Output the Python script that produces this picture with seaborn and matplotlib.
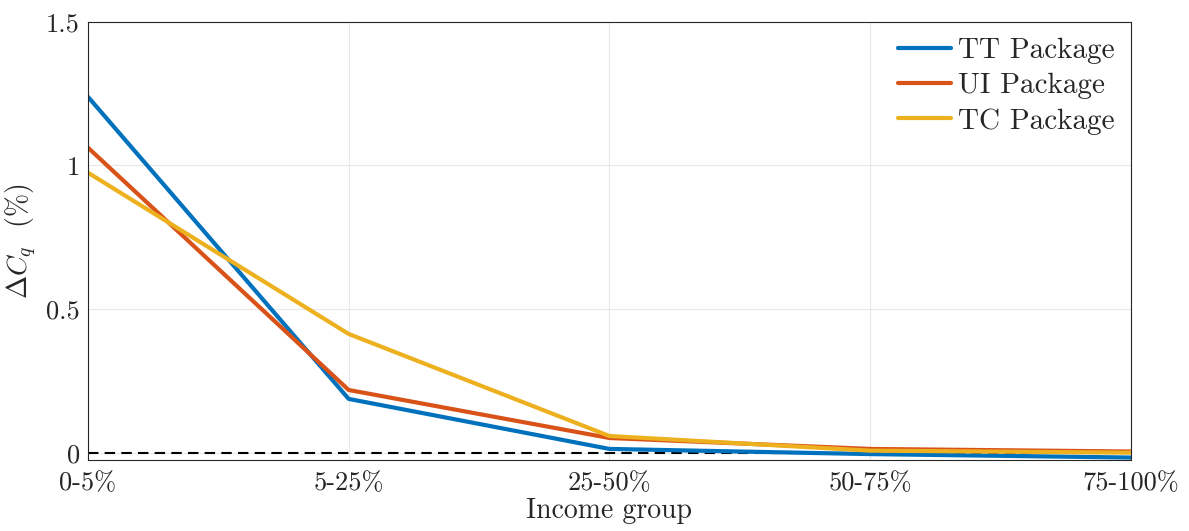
import pandas as pd
import numpy as np
import matplotlib.pyplot as plt
import seaborn as sns

# data
groups = ["0-5%", "5-25%", "25-50%", "50-75%", "75-100%"]
tt_package = [1.239, 0.188, 0.014, -0.004, -0.016]
ui_package = [1.062, 0.219, 0.052, 0.014, 0.005]
tc_package = [0.975, 0.414, 0.059, 0.008, 0.001]
series_names = ["TT Package", "UI Package", "TC Package"]
colors = ["#0072BD", "#D95319", "#EDB120"]

df = pd.DataFrame({"group": groups, "TT Package": tt_package,
                   "UI Package": ui_package, "TC Package": tc_package})
long_df = df.melt(id_vars="group", var_name="Series", value_name="dC")

sns.set_style("white")
plt.rcParams["font.family"] = ["cmr10", "DejaVu Serif"]
plt.rcParams["mathtext.fontset"] = "cm"
plt.rcParams["axes.formatter.use_mathtext"] = True

fig = plt.figure(figsize=(11.89, 5.31), dpi=100)
ax = fig.add_axes([0.074, 0.134, 0.877, 0.825])

sns.lineplot(data=long_df, x="group", y="dC", hue="Series",
             hue_order=series_names, palette=colors, linewidth=3,
             sort=False, ax=ax)
ax.axhline(0, color="black", linestyle=(0, (5, 3)), linewidth=1.5, zorder=1)

ax.set_xlim(0, 4)
ax.set_ylim(-0.024, 1.5)
ax.set_yticks([0, 0.5, 1, 1.5])
ax.set_yticklabels(["0", "0.5", "1", "1.5"])
ax.set_xticks(range(len(groups)))
ax.set_xticklabels(groups)
ax.tick_params(direction="in", length=5, width=0.8, color="#262626",
               labelsize=19, labelcolor="#262626")
ax.tick_params(axis="x", pad=8)
ax.tick_params(axis="y", pad=6)
ax.grid(True, color="#e8e8e8", linewidth=0.8)
ax.set_axisbelow(True)
for s in ax.spines.values():
    s.set_visible(True)
    s.set_color("#262626")
    s.set_linewidth(0.8)

ax.set_xlabel("Income group", fontsize=20, color="#262626", labelpad=2)
ax.set_ylabel(r"$\Delta C_q$  (%)", fontsize=20, color="#262626", labelpad=5)

leg = ax.legend(loc="upper right", frameon=False, fontsize=21,
                handlelength=1.8, handletextpad=0.25, labelspacing=0.3,
                borderaxespad=0.15)
for line in leg.get_lines():
    line.set_linewidth(3)

fig.savefig("out.png", dpi=100)
